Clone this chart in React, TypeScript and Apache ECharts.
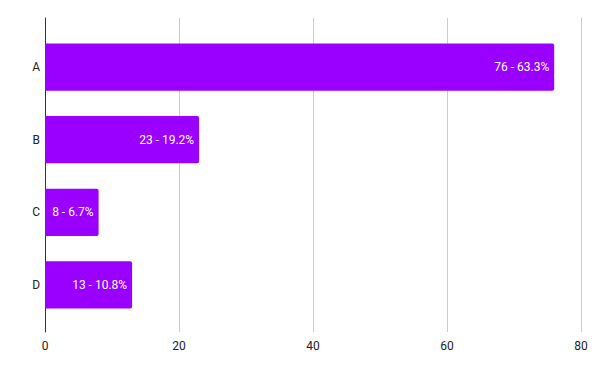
import React, { useEffect, useRef } from "react";
import * as echarts from "echarts";

const categories = ["A", "B", "C", "D"];
const values = [76, 23, 8, 13];
const xTicks = { min: 0, max: 80, interval: 20 };

export default function App() {
  const ref = useRef<HTMLDivElement>(null);
  useEffect(() => {
    if (!ref.current) return;
    const chart = echarts.init(ref.current, undefined, { renderer: "svg" });
    const total = values.reduce((a, b) => a + b, 0);
    const font = "Roboto, Arial, sans-serif";
    chart.setOption({
      animation: false,
      textStyle: { fontFamily: font },
      grid: [
        { left: 45, right: 19, top: 18, bottom: 39 },
        { left: 45, right: 19, top: 30.75, height: 290.5 },
      ],
      xAxis: [
        {
          gridIndex: 0,
          type: "value",
          min: xTicks.min,
          max: xTicks.max,
          interval: xTicks.interval,
          axisLine: { show: false },
          axisTick: { show: false },
          axisLabel: { color: "#222", fontSize: 12, margin: 8, fontFamily: font },
          splitLine: { show: true, lineStyle: { color: "#cccccc", width: 1 } },
        },
        {
          gridIndex: 1,
          type: "value",
          min: xTicks.min,
          max: xTicks.max,
          interval: xTicks.interval,
          show: false,
        },
      ],
      yAxis: [
        {
          gridIndex: 0,
          type: "category",
          data: categories,
          axisLine: { show: true, lineStyle: { color: "#333", width: 1 } },
          axisTick: { show: false },
          axisLabel: { show: false },
          splitLine: { show: false },
        },
        {
          gridIndex: 1,
          type: "category",
          data: categories,
          inverse: true,
          axisLine: { show: false },
          axisTick: { show: false },
          axisLabel: { color: "#222", fontSize: 12, margin: 5, fontFamily: font },
        },
      ],
      series: [
        {
          type: "bar",
          xAxisIndex: 1,
          yAxisIndex: 1,
          data: values,
          barCategoryGap: "35%",
          itemStyle: { color: "#9900ff", borderRadius: [0, 2, 2, 0] },
          label: {
            show: true,
            position: "insideRight",
            distance: 5,
            color: "#ffffff",
            fontSize: 12,
            fontFamily: font,
            formatter: (p: any) => `${p.value} - ${((p.value / total) * 100).toFixed(1)}%`,
          },
        },
      ],
    });
    return () => chart.dispose();
  }, []);
  return <div ref={ref} style={{ width: 600, height: 371, position: "absolute", left: 0, top: 0 }} />;
}
